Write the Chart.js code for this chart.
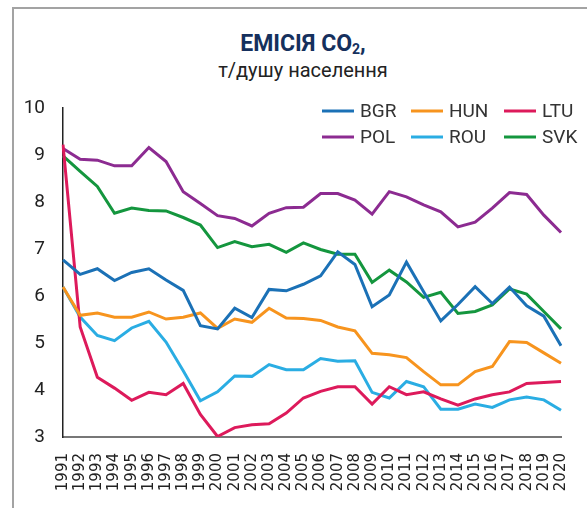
<!DOCTYPE html>
<html>
<head>
<meta charset="utf-8">
<script src="https://cdn.jsdelivr.net/npm/chart.js@4/dist/chart.umd.min.js"></script>
<style>
  html, body { margin: 0; padding: 0; background: #fff; }
  #wrap { position: relative; width: 587px; height: 508px; overflow: hidden; }
  #frame { position: absolute; left: 12px; top: 7px; right: -10px; bottom: -10px;
           border-top: 2px solid #a3a3a3; border-left: 2px solid #a3a3a3; }
  .ttl { position: absolute; left: 13px; width: 580px; text-align: center; font-family: Roboto, sans-serif; }
  #t1 { top: 32px; font-size: 23px; line-height: 23px; font-weight: 700; color: #15305d; }
  #t1 sub { font-size: 14px; vertical-align: -3px; line-height: 0; }
  #t2 { top: 60px; font-size: 20px; line-height: 20px; color: #222; }
  canvas { position: absolute; left: 0; top: 0; }
</style>
</head>
<body>
<div id="wrap">
  <div id="frame"></div>
  <div class="ttl" id="t1">ЕМІСІЯ CO<sub>2</sub>,</div>
  <div class="ttl" id="t2">т/душу населення</div>
  <canvas id="co2Chart" width="587" height="508"></canvas>
</div>
<script>
// роки
const years = ['1991', '1992', '1993', '1994', '1995', '1996', '1997', '1998', '1999', '2000',
               '2001', '2002', '2003', '2004', '2005', '2006', '2007', '2008', '2009', '2010',
               '2011', '2012', '2013', '2014', '2015', '2016', '2017', '2018', '2019', '2020'];

// т CO2 на душу населення (оцінка з графіка)
const bgr = [6.77, 6.46, 6.58, 6.33, 6.50, 6.58, 6.34, 6.12, 5.37, 5.30, 5.74, 5.54, 6.14, 6.11, 6.25,
             6.43, 6.94, 6.67, 5.77, 6.02, 6.72, 6.09, 5.47, 5.82, 6.20, 5.84, 6.19, 5.79, 5.57, 4.94];
const hun = [6.19, 5.59, 5.64, 5.55, 5.55, 5.66, 5.51, 5.55, 5.64, 5.31, 5.51, 5.44, 5.74, 5.53, 5.52,
             5.48, 5.34, 5.26, 4.78, 4.75, 4.69, 4.39, 4.11, 4.11, 4.39, 4.50, 5.03, 5.01, 4.79, 4.57];
const ltu = [9.22, 5.34, 4.27, 4.04, 3.78, 3.95, 3.90, 4.14, 3.48, 3.01, 3.20, 3.26, 3.28, 3.51, 3.83,
             3.97, 4.07, 4.07, 3.70, 4.07, 3.90, 3.96, 3.81, 3.68, 3.81, 3.90, 3.96, 4.14, 4.16, 4.18];
const pol = [9.14, 8.91, 8.89, 8.77, 8.77, 9.16, 8.86, 8.22, 7.97, 7.71, 7.65, 7.49, 7.76, 7.88, 7.89,
             8.18, 8.18, 8.04, 7.74, 8.22, 8.11, 7.94, 7.79, 7.47, 7.57, 7.87, 8.20, 8.16, 7.72, 7.35];
const rou = [6.19, 5.55, 5.16, 5.05, 5.32, 5.46, 5.02, 4.41, 3.77, 3.96, 4.30, 4.29, 4.54, 4.43, 4.43,
             4.67, 4.61, 4.62, 3.95, 3.83, 4.18, 4.07, 3.59, 3.59, 3.70, 3.63, 3.79, 3.85, 3.79, 3.57];
const svk = [8.98, 8.65, 8.33, 7.76, 7.87, 7.82, 7.81, 7.67, 7.51, 7.03, 7.16, 7.05, 7.10, 6.93, 7.13,
             6.99, 6.89, 6.89, 6.29, 6.55, 6.30, 5.97, 6.08, 5.63, 5.67, 5.81, 6.15, 6.04, 5.67, 5.30];

const yTicks = [3, 4, 5, 6, 7, 8, 9, 10];

function line(label, data, color) {
  return { label: label, data: data, borderColor: color, backgroundColor: color,
           borderWidth: 3, pointRadius: 0, tension: 0, fill: false };
}

// легенда всередині області графіка, 3 колонки
const innerLegend = {
  id: 'innerLegend',
  afterDraw(chart) {
    const ctx = chart.ctx;
    const cols = [322, 411, 504];
    const rows = [111, 137];
    ctx.save();
    ctx.font = '19px Roboto';
    ctx.textBaseline = 'middle';
    chart.data.datasets.forEach((ds, i) => {
      const x = cols[i % 3];
      const y = rows[Math.floor(i / 3)];
      ctx.strokeStyle = ds.borderColor;
      ctx.lineWidth = 3;
      ctx.beginPath();
      ctx.moveTo(x, y);
      ctx.lineTo(x + 32, y);
      ctx.stroke();
      ctx.fillStyle = '#333';
      ctx.fillText(ds.label, x + 38, y + 1);
    });
    ctx.restore();
  }
};

const ctx = document.getElementById('co2Chart').getContext('2d');
new Chart(ctx, {
  type: 'line',
  data: {
    labels: years,
    datasets: [
      line('BGR', bgr, '#1b71b6'),
      line('HUN', hun, '#f7941e'),
      line('LTU', ltu, '#dd1a5b'),
      line('POL', pol, '#8c2b91'),
      line('ROU', rou, '#2aade3'),
      line('SVK', svk, '#14963e')
    ]
  },
  options: {
    responsive: false,
    animation: false,
    layout: { padding: { top: 108, right: 16, left: 0, bottom: 0 } },
    plugins: {
      legend: { display: false },
      title: { display: false },
      tooltip: { enabled: false }
    },
    scales: {
      x: {
        grid: { display: false },
        border: { display: true, color: '#777', width: 2 },
        ticks: {
          autoSkip: false, minRotation: 90, maxRotation: 90, padding: 8,
          color: '#222', font: { family: 'DejaVu Sans', size: 15 }
        },
        afterFit(scale) { scale.height = 508 - 437; }
      },
      y: {
        min: 3, max: 10,
        afterBuildTicks(scale) { scale.ticks = yTicks.map(v => ({ value: v })); },
        grid: { display: false },
        border: { display: true, color: '#222', width: 1.5 },
        ticks: { padding: 10, color: '#222', font: { family: 'Roboto', size: 19 } },
        afterFit(scale) { scale.width = 63; }
      }
    }
  },
  plugins: [innerLegend]
});
</script>
</body>
</html>
